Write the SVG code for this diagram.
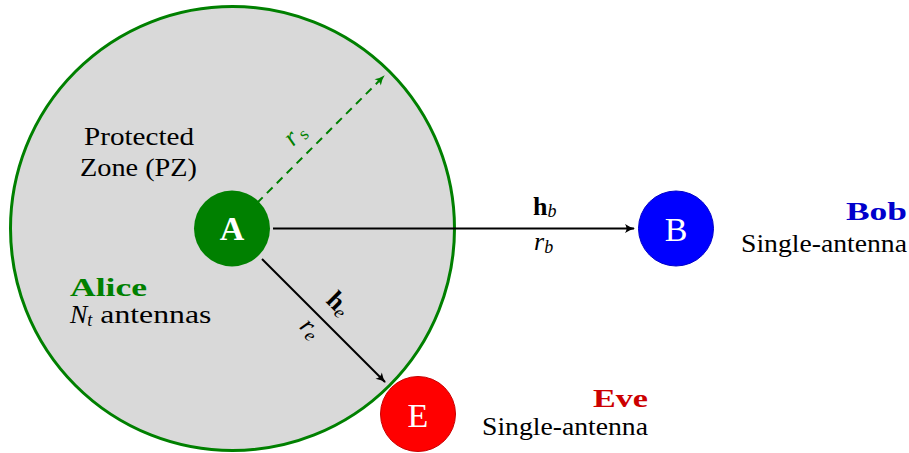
<svg xmlns="http://www.w3.org/2000/svg" width="909" height="453" viewBox="0 0 909 453" font-family="'Liberation Serif', serif">
<defs>
<style>
text{font-family:'Liberation Serif',serif;fill:#000}
.lbl{font-size:26px}
.math{font-style:italic}
.big{font-size:34px;fill:#fff}
.conn{fill:none;stroke:#000;stroke-width:2}
</style>
<marker id="ah" viewBox="0 0 12 12" refX="10" refY="6" markerWidth="12" markerHeight="12" markerUnits="userSpaceOnUse" orient="auto">
<path d="M1,1.5 Q6,5 11,6 Q6,7 1,10.5 Q4,6 1,1.5 Z" fill="#000"/>
</marker>
<marker id="ahg" viewBox="0 0 12 12" refX="10" refY="6" markerWidth="12" markerHeight="12" markerUnits="userSpaceOnUse" orient="auto">
<path d="M1,1.5 Q6,5 11,6 Q6,7 1,10.5 Q4,6 1,1.5 Z" fill="#008000"/>
</marker>
</defs>
<rect width="909" height="453" fill="#fff"/>
<g id="pz">
<circle cx="232.5" cy="228.5" r="222" fill="#d9d9d9" stroke="#008000" stroke-width="3"/>
<text class="lbl" x="84" y="145" textLength="110" lengthAdjust="spacingAndGlyphs">Protected</text>
<text class="lbl" x="80" y="176" textLength="117" lengthAdjust="spacingAndGlyphs">Zone (PZ)</text>
</g>
<g id="connectors">
<line class="conn" x1="273" y1="228.5" x2="634" y2="228.5" marker-end="url(#ah)"/>
<line class="conn" x1="262" y1="259" x2="385" y2="382" marker-end="url(#ah)"/>
<line x1="257" y1="203" x2="384" y2="76" fill="none" stroke="#008000" stroke-width="2" stroke-dasharray="8,6" marker-end="url(#ahg)"/>
<text class="lbl math" x="286" y="144" style="fill:#008000" transform="rotate(-45 293 137)">r<tspan font-style="normal" font-size="18" dx="3" dy="4">s</tspan></text>
<text class="lbl" x="533" y="215" font-weight="bold">h<tspan class="math" font-weight="normal" font-size="18" dy="2">b</tspan></text>
<text class="lbl math" x="534" y="250">r<tspan font-size="18" dy="3">b</tspan></text>
<g transform="rotate(45 337 305)">
<text class="lbl" x="326" y="311" font-weight="bold">h<tspan class="math" font-weight="normal" font-size="18" dy="3">e</tspan></text>
</g>
<g transform="rotate(45 309 331)">
<text class="lbl math" x="299" y="336">r<tspan font-size="18" dy="3">e</tspan></text>
</g>
</g>
<g id="alice">
<circle cx="232" cy="228.5" r="38" fill="#008000"/>
<text class="big" x="232" y="240" text-anchor="middle" font-weight="bold">A</text>
<text class="lbl" x="70" y="296" font-weight="bold" style="fill:#008000" textLength="77" lengthAdjust="spacingAndGlyphs">Alice</text>
<text class="lbl" x="70" y="323"><tspan class="math">N</tspan><tspan class="math" font-size="18" dy="3">t</tspan><tspan dy="-3" textLength="119" lengthAdjust="spacingAndGlyphs"> antennas</tspan></text>
</g>
<g id="bob">
<circle cx="676" cy="228.5" r="37.5" fill="#0000ff" stroke="#0000c8" stroke-width="1"/>
<text class="big" x="676" y="241" text-anchor="middle">B</text>
<text class="lbl" x="846" y="220" font-weight="bold" style="fill:#0000cc" textLength="61" lengthAdjust="spacingAndGlyphs">Bob</text>
<text class="lbl" x="741" y="252" textLength="166" lengthAdjust="spacingAndGlyphs">Single-antenna</text>
</g>
<g id="eve">
<circle cx="418" cy="414" r="37.5" fill="#ff0000" stroke="#c80000" stroke-width="1"/>
<text class="big" x="418" y="427" text-anchor="middle">E</text>
<text class="lbl" x="593" y="407" font-weight="bold" style="fill:#cc0000" textLength="55" lengthAdjust="spacingAndGlyphs">Eve</text>
<text class="lbl" x="482" y="435" textLength="166" lengthAdjust="spacingAndGlyphs">Single-antenna</text>
</g>
</svg>
